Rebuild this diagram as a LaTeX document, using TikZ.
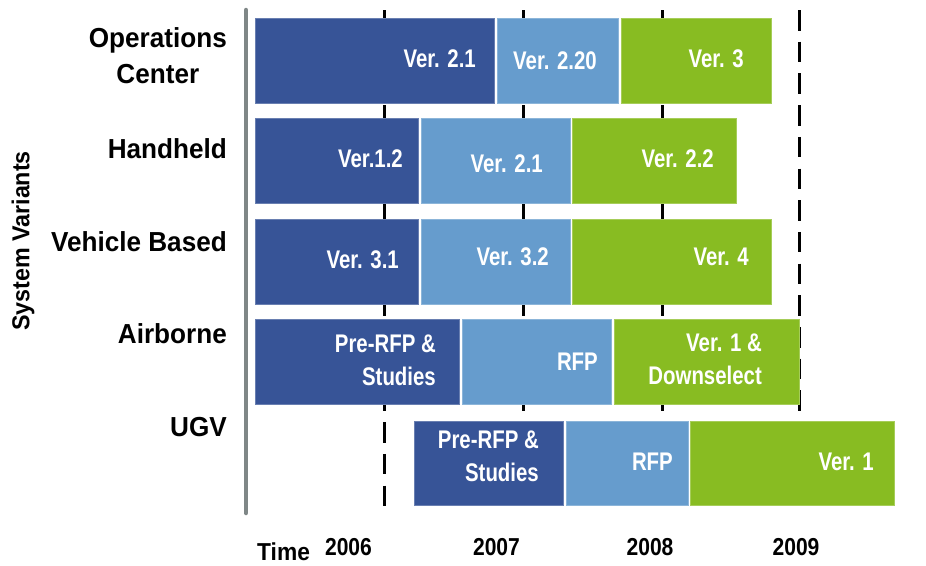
\documentclass[tikz,border=0pt]{standalone}
\usepackage{fontspec}
\setmainfont{Liberation Sans}
\newfontfamily\barfont[FakeStretch=0.80]{Liberation Sans}
\newfontfamily\yrfont[FakeStretch=0.86]{Liberation Sans}
\newfontfamily\rowfont[FakeStretch=0.95]{Liberation Sans}
\newfontfamily\timefont[FakeStretch=0.93]{Liberation Sans}
\definecolor{dblue}{HTML}{375497}
\definecolor{lblue}{HTML}{669CCD}
\definecolor{vgreen}{HTML}{88BC22}
\definecolor{axgray}{HTML}{7F8787}
\begin{document}
\begin{tikzpicture}[x=1pt,y=-1pt,
 bar/.style={draw=#1!75!white, line width=0.6pt, fill=#1},
 yline/.style={line width=3pt, dash pattern=on 20.5pt off 11.2pt},
 rowlab/.style={font=\rowfont\fontsize{27.5}{36}\selectfont\bfseries, align=center, anchor=east, inner sep=0pt},
 barlab/.style={font=\barfont\fontsize{25.5}{33}\selectfont\bfseries, text=white, inner sep=0pt, align=right, anchor=east},
 yearlab/.style={font=\yrfont\fontsize{24.5}{28}\selectfont\bfseries, inner sep=0pt, anchor=base},
]
\useasboundingbox (0,0) rectangle (926,565);
% year grid lines
\draw[yline] (384,10) -- (384,506);
\draw[yline] (523,10) -- (523,506);
\draw[yline] (662,10) -- (662,506);
\draw[yline] (799,10) -- (799,506);
% bars row 1
\path[bar=dblue] (255,18) rectangle (494,103);
\path[bar=lblue] (497,18) rectangle (618,103);
\path[bar=vgreen] (621,18) rectangle (771,103);
% row 2
\path[bar=dblue] (255,118) rectangle (418,203);
\path[bar=lblue] (421,118) rectangle (570,203);
\path[bar=vgreen] (572,118) rectangle (736,203);
% row 3
\path[bar=dblue] (255,219) rectangle (418,304);
\path[bar=lblue] (421,219) rectangle (570,304);
\path[bar=vgreen] (572,219) rectangle (771,304);
% row 4
\path[bar=dblue] (255,319) rectangle (459,404);
\path[bar=lblue] (462,319) rectangle (611,404);
\path[bar=vgreen] (614,319) rectangle (799.5,404);
% row 5
\path[bar=dblue] (414,421) rectangle (563,505);
\path[bar=lblue] (566,421) rectangle (688,505);
\path[bar=vgreen] (690,421) rectangle (894,505);
% axis
\draw[axgray, line width=4.5pt, line cap=round] (246,10) -- (246,513);
% bar labels
\node[barlab] (a1) at (476,59) {Ver. 2.1};
\node[barlab] (a2) at (597,61) {Ver. 2.20};
\node[barlab] (a3) at (744,59) {Ver. 3};
\node[barlab] (b1) at (403,159) {Ver.1.2};
\node[barlab] (b2) at (543,164) {Ver. 2.1};
\node[barlab] (b3) at (714,159) {Ver. 2.2};
\node[barlab] (c1) at (399,260) {Ver. 3.1};
\node[barlab] (c2) at (549,257) {Ver. 3.2};
\node[barlab] (c3) at (749,257) {Ver. 4};
\node[barlab] (d1) at (436,360) {Pre-RFP \&\\Studies};
\node[barlab] (d2) at (598,361.5) {RFP};
\node[barlab] (d3) at (762,359) {Ver. 1 \&\\Downselect};
\node[barlab] (e1) at (539,456) {Pre-RFP \&\\Studies};
\node[barlab] (e2) at (673,461.5) {RFP};
\node[barlab] (e3) at (874,461.5) {Ver. 1};
% row labels
\node[rowlab] (oc) at (227,56) {Operations\\Center};
\node[rowlab] (hh) at (227,149) {Handheld};
\node[rowlab] (vb) at (227,241.5) {Vehicle Based};
\node[rowlab] (ab) at (227,334) {Airborne};
\node[rowlab] (ugv) at (227,427) {UGV};
\node[font=\rowfont\fontsize{24.5}{27}\selectfont\bfseries, rotate=90, inner sep=0pt] (sv) at (23,241) {System Variants};
% time axis labels
\node[font=\timefont\fontsize{24.5}{28}\selectfont\bfseries, inner sep=0pt, anchor=base west] (time) at (257,560) {Time};
\node[yearlab] (y6) at (348.5,555) {2006};
\node[yearlab] (y7) at (496.5,555) {2007};
\node[yearlab] (y8) at (650,555) {2008};
\node[yearlab] (y9) at (796,555) {2009};
\end{tikzpicture}
\end{document}
